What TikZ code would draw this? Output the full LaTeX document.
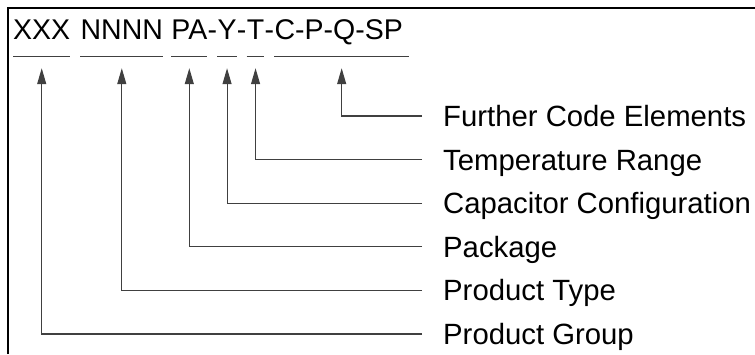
\documentclass[tikz,border=0pt]{standalone}
\usepackage{fontspec}
\setmainfont{Liberation Sans}
\usetikzlibrary{positioning,arrows.meta}

\begin{document}
\begin{tikzpicture}[x=1pt,y=-1pt,
  code/.style={inner sep=0pt, text height=20pt, text depth=16.5pt, font=\fontsize{28.5}{32}\selectfont},
  desc/.style={inner sep=0pt, anchor=west, text height=21pt, text depth=0pt, font=\fontsize{29.3}{33}\selectfont},
  uline/.style={draw=black!75, line width=1.1pt},
  pointer/.style={draw=black!75, line width=1.1pt, -{Triangle[length=16pt,width=9pt]}},
  frame/.style={line width=2.4pt}]
\useasboundingbox (0,0) rectangle (755,354);
\draw[frame] (8,354) -- (8,8) -- (755,8);

\node[code, anchor=base west] (grp) at (13,39.5) {XXX};
\node[code, base right=10pt of grp] (typ) {NNNN};
\node[code, base right=8pt of typ] (pkg) {PA};
\node[code, base right=0pt of pkg] (d1) {-};
\node[code, base right=0pt of d1] (cfg) {Y};
\node[code, base right=0pt of cfg] (d2) {-};
\node[code, base right=0pt of d2] (tmp) {T};
\node[code, base right=0pt of tmp] (d3) {-};
\node[code, base right=0pt of d3] (fur) {C-P-Q-SP};

\draw[uline] (grp.south west) -- (grp.south east);
\draw[uline] (typ.south west) -- (typ.south east);
\draw[uline] (pkg.south west) -- (pkg.south east);
\draw[uline] (cfg.south west) -- (cfg.south east);
\draw[uline] (tmp.south west) -- (tmp.south east);
\draw[uline] (fur.south west) -- ([xshift=6pt]fur.south east);

\node[desc] (lfur) at (443,116) {Further Code Elements};
\node[desc] (ltmp) at (443,159.6) {Temperature Range};
\node[desc] (lcfg) at (443,203.2) {Capacitor Configuration};
\node[desc] (lpkg) at (443,246.8) {Package};
\node[desc] (ltyp) at (443,290.4) {Product Type};
\node[desc] (lgrp) at (443,334) {Product Group};

\draw[pointer] ([xshift=-21pt]lfur.west) -| ([xshift=3pt,yshift=-12pt]fur.south);
\draw[pointer] ([xshift=-21pt]ltmp.west) -| ([yshift=-12pt]tmp.south);
\draw[pointer] ([xshift=-21pt]lcfg.west) -| ([yshift=-12pt]cfg.south);
\draw[pointer] ([xshift=-21pt]lpkg.west) -| ([yshift=-12pt]pkg.south);
\draw[pointer] ([xshift=-21pt]ltyp.west) -| ([yshift=-12pt]typ.south);
\draw[pointer] ([xshift=-21pt]lgrp.west) -| ([yshift=-12pt]grp.south);
\end{tikzpicture}
\end{document}
